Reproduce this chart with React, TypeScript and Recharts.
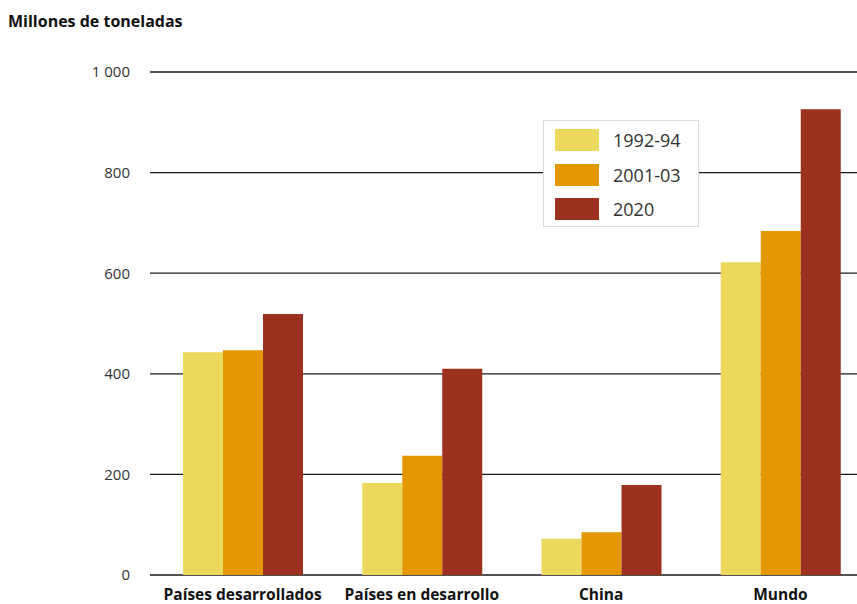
import React from 'react';
import { BarChart, Bar, XAxis, YAxis, CartesianGrid, Legend } from 'recharts';

const categories = ['Países desarrollados', 'Países en desarrollo', 'China', 'Mundo'];
const s1992 = [443, 183, 72, 622];
const s2001 = [447, 237, 85, 684];
const s2020 = [519, 410, 179, 926];
const yTicks = [0, 200, 400, 600, 800, 1000];
const seriesNames = ['1992-94', '2001-03', '2020'];
const colors = ['#EDD85E', '#E39700', '#9B311E'];

const data = categories.map((c, i) => ({
  name: c,
  '1992-94': s1992[i],
  '2001-03': s2001[i],
  '2020': s2020[i],
}));

const FONT = '"Open Sans", "Noto Sans", sans-serif';

const fmt = (v: number) => (v >= 1000 ? `${Math.floor(v / 1000)} ${String(v % 1000).padStart(3, '0')}` : String(v));

const LegendBox = () => (
  <div
    style={{
      border: '1px solid #dcdcdc',
      background: '#fff',
      padding: '2px 0 0 11px',
      width: 143,
      height: 103,
      boxSizing: 'content-box',
      fontFamily: FONT,
    }}
  >
    {seriesNames.map((n, i) => (
      <div key={n} style={{ display: 'flex', alignItems: 'center', height: 34.5 }}>
        <div style={{ width: 44, height: 22, background: colors[i] }} />
        <span style={{ marginLeft: 14, fontSize: 18, color: '#333' }}>{n}</span>
      </div>
    ))}
  </div>
);

export default function App() {
  return (
    <div style={{ position: 'absolute', left: 0, top: 0, width: 857, height: 604, overflow: 'hidden', background: '#fff' }}>
      <div
        style={{
          position: 'absolute',
          left: 8,
          top: 10,
          fontFamily: FONT,
          fontWeight: 700,
          fontSize: 16,
          color: '#111',
          zIndex: 2,
        }}
      >
        Millones de toneladas
      </div>
      <BarChart
        width={872}
        height={604}
        data={data}
        margin={{ top: 72, right: 2, bottom: 0, left: 0 }}
        barGap={0}
        barSize={40}
        style={{ fontFamily: FONT }}
      >
        <CartesianGrid vertical={false} stroke="#1a1a1a" strokeWidth={1.3} />
        <XAxis
          dataKey="name"
          tickLine={false}
          axisLine={false}
          height={29}
          padding={{ left: 3, right: 0 }}
          tickMargin={8}
          interval={0}
          tick={{ fill: '#111', fontSize: 15.5, fontWeight: 700, fontFamily: FONT }}
        />
        <YAxis
          domain={[0, 1000]}
          ticks={yTicks}
          width={150}
          tickLine={false}
          axisLine={false}
          tickMargin={14}
          tickFormatter={fmt}
          interval={0}
          tick={{ fill: '#333', fontSize: 15, fontFamily: FONT }}
        />
        <Legend
          layout="vertical"
          align="center"
          verticalAlign="middle"
          content={<LegendBox />}
          wrapperStyle={{ position: 'absolute', left: 543, top: 120, width: 'auto', height: 'auto' }}
        />
        {seriesNames.map((n, i) => (
          <Bar key={n} dataKey={n} fill={colors[i]} isAnimationActive={false} />
        ))}
      </BarChart>
    </div>
  );
}
